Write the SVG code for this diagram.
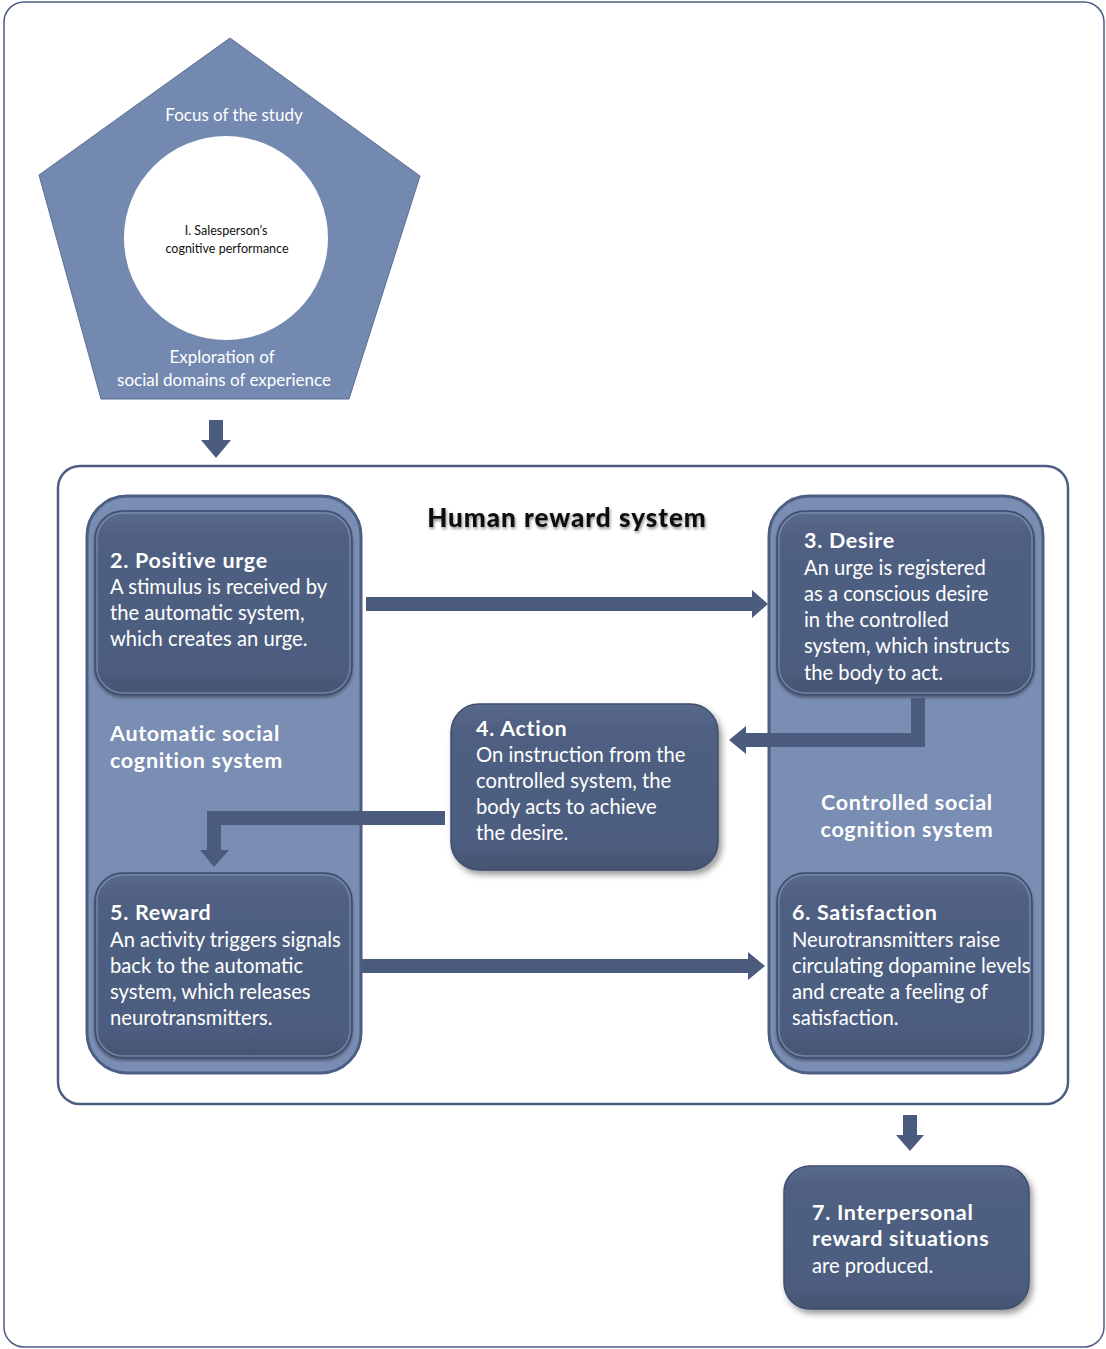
<svg xmlns="http://www.w3.org/2000/svg" width="1106" height="1349" viewBox="0 0 1106 1349">
<defs>
<style>
.t{font-family:Lato,"Open Sans","Liberation Sans",sans-serif;fill:#fff}
.b{font-size:20.2px}
.h{font-size:21.5px;font-weight:bold;letter-spacing:0.7px}
.col{fill:#7a8db3;stroke:#4d5e82;stroke-width:3}
.box{fill:url(#g);stroke:#3f4e6e;stroke-width:1.5}
.rim{fill:none;stroke:#8294b8;stroke-width:1.5;opacity:.7}
.arr{fill:#4b5b7d}
</style>
<linearGradient id="g" x1="0" y1="0" x2="0" y2="1">
<stop offset="0" stop-color="#5a6a8d"/>
<stop offset="0.15" stop-color="#4f5f81"/>
<stop offset="0.85" stop-color="#4d5d7f"/>
<stop offset="1" stop-color="#45546f"/>
</linearGradient>
<filter id="sh" x="-10%" y="-10%" width="125%" height="130%">
<feDropShadow dx="3" dy="4" stdDeviation="3" flood-color="#000" flood-opacity="0.4"/>
</filter>
<filter id="sh2" x="-10%" y="-10%" width="120%" height="130%">
<feDropShadow dx="0" dy="2" stdDeviation="1.5" flood-color="#000" flood-opacity="0.35"/>
</filter>
<filter id="ts" x="-5%" y="-20%" width="110%" height="150%">
<feDropShadow dx="1" dy="2" stdDeviation="1.5" flood-color="#000" flood-opacity="0.45"/>
</filter>
</defs>
<rect x="4" y="2" width="1100" height="1345" rx="20" fill="#fff" stroke="#4d5e82" stroke-width="1.5"/>

<g id="focus">
<polygon points="230,38 420,176 349,399 101,399 39,175" fill="#7489b0" stroke="#5a6e96" stroke-width="1"/>
<circle cx="226" cy="238" r="102" fill="#fff"/>
<text class="t" x="234" y="121" font-size="17" text-anchor="middle">Focus of the study</text>
<text class="t" x="226" y="235" font-size="12.5" text-anchor="middle" style="fill:#111">I. Salesperson’s</text>
<text class="t" x="227" y="253" font-size="12.5" text-anchor="middle" style="fill:#111">cognitive performance</text>
<text class="t" x="222" y="363" font-size="17" text-anchor="middle">Exploration of</text>
<text class="t" x="224" y="386" font-size="17" text-anchor="middle">social domains of experience</text>
</g>

<g id="reward-system">
<rect x="58" y="466" width="1010" height="638" rx="22" fill="#fff" stroke="#4d5e82" stroke-width="2.5"/>
<text x="567" y="527" font-family="Lato,'Open Sans','Liberation Sans',sans-serif" font-size="26" font-weight="900" letter-spacing="1" fill="#111" text-anchor="middle" filter="url(#ts)">Human reward system</text>
</g>

<g id="automatic-system">
<rect class="col" x="87" y="496" width="274" height="577" rx="40"/>
<text class="t h" x="110" y="741">Automatic social</text>
<text class="t h" x="110" y="768">cognition system</text>
</g>

<g id="controlled-system">
<rect class="col" x="769" y="496" width="274" height="577" rx="40"/>
<text class="t h" x="907" y="810" text-anchor="middle">Controlled social</text>
<text class="t h" x="907" y="837" text-anchor="middle">cognition system</text>
</g>

<g id="node2">
<rect class="box" x="95" y="511" width="257" height="184" rx="28" filter="url(#sh2)"/>
<rect class="rim" x="97" y="513" width="253" height="180" rx="26"/>
<text class="t h" x="110" y="568">2. Positive urge</text>
<text class="t b" x="110" y="594">A stimulus is received by</text>
<text class="t b" x="110" y="620">the automatic system,</text>
<text class="t b" x="110" y="646">which creates an urge.</text>
</g>

<g id="node3">
<rect class="box" x="777" y="511" width="257" height="184" rx="28" filter="url(#sh2)"/>
<rect class="rim" x="779" y="513" width="253" height="180" rx="26"/>
<text class="t h" x="804" y="548">3. Desire</text>
<text class="t b" x="804" y="575">An urge is registered</text>
<text class="t b" x="804" y="601">as a conscious desire</text>
<text class="t b" x="804" y="627">in the controlled</text>
<text class="t b" x="804" y="653">system, which instructs</text>
<text class="t b" x="804" y="680">the body to act.</text>
</g>

<g id="node4">
<rect class="box" x="451" y="704" width="267" height="166" rx="28" filter="url(#sh)"/>
<text class="t h" x="476" y="736">4. Action</text>
<text class="t b" x="476" y="762">On instruction from the</text>
<text class="t b" x="476" y="788">controlled system, the</text>
<text class="t b" x="476" y="814">body acts to achieve</text>
<text class="t b" x="476" y="840">the desire.</text>
</g>

<g id="node5">
<rect class="box" x="95" y="873" width="257" height="185" rx="28" filter="url(#sh2)"/>
<rect class="rim" x="97" y="875" width="253" height="181" rx="26"/>
<text class="t h" x="110" y="920">5. Reward</text>
<text class="t b" x="110" y="947">An activity triggers signals</text>
<text class="t b" x="110" y="973">back to the automatic</text>
<text class="t b" x="110" y="999">system, which releases</text>
<text class="t b" x="110" y="1025">neurotransmitters.</text>
</g>

<g id="node6">
<rect class="box" x="777" y="873" width="255" height="185" rx="28" filter="url(#sh2)"/>
<rect class="rim" x="779" y="875" width="251" height="181" rx="26"/>
<text class="t h" x="792" y="920">6. Satisfaction</text>
<text class="t b" x="792" y="947">Neurotransmitters raise</text>
<text class="t b" x="792" y="973">circulating dopamine levels</text>
<text class="t b" x="792" y="999">and create a feeling of</text>
<text class="t b" x="792" y="1025">satisfaction.</text>
</g>

<g id="node7">
<rect class="box" x="784" y="1166" width="245" height="143" rx="26" filter="url(#sh)"/>
<text class="t h" x="812" y="1220">7. Interpersonal</text>
<text class="t h" x="812" y="1246">reward situations</text>
<text class="t b" x="812" y="1273">are produced.</text>
</g>

<g id="connectors">
<polygon class="arr" points="209,420 223,420 223,440 231,440 216,458 201,440 209,440"/>
<polygon class="arr" points="366,597 752,597 752,590 768,604 752,618 752,611 366,611"/>
<polygon class="arr" points="925,698 925,747 746,747 746,754 729,740 746,726 746,733 911,733 911,698"/>
<polygon class="arr" points="445,811 445,825 221,825 221,850 229,850 214,867 200,850 207,850 207,811"/>
<polygon class="arr" points="362,959 748,959 748,952 765,966 748,980 748,973 362,973"/>
<polygon class="arr" points="903,1115 917,1115 917,1135 924,1135 910,1151 896,1135 903,1135"/>
</g>
</svg>
